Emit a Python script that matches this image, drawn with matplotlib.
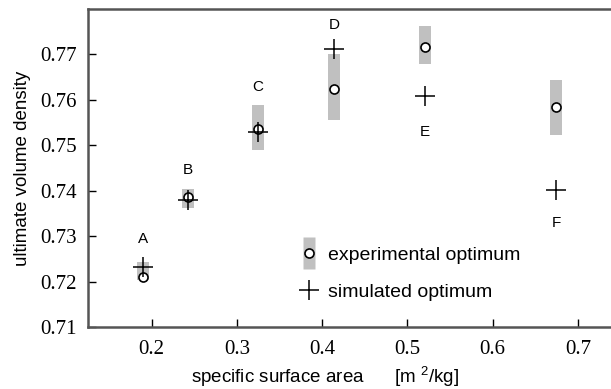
import matplotlib
matplotlib.use("Agg")
import matplotlib.pyplot as plt
from matplotlib.lines import Line2D
from matplotlib.legend_handler import HandlerTuple

# Data
labels = ["A", "B", "C", "D", "E", "F"]
ssa = [0.1895, 0.2429, 0.3246, 0.4141, 0.5204, 0.6746]
exp_opt = [0.7211, 0.7387, 0.7535, 0.7625, 0.7717, 0.7585]
exp_low = [0.7204, 0.7361, 0.7490, 0.7556, 0.7680, 0.7523]
exp_high = [0.7242, 0.7404, 0.7588, 0.7702, 0.7762, 0.7643]
sim_opt = [0.7232, 0.7380, 0.7530, 0.7711, 0.7609, 0.7402]
label_y = [0.7293, 0.7446, 0.7628, 0.7765, 0.7529, 0.7329]
xticks = [0.2, 0.3, 0.4, 0.5, 0.6, 0.7]
yticks = [0.71, 0.72, 0.73, 0.74, 0.75, 0.76, 0.77]

plt.rcParams['mathtext.fontset'] = 'custom'
plt.rcParams['mathtext.rm'] = 'Liberation Sans'
plt.rcParams['mathtext.it'] = 'Liberation Sans'

fig = plt.figure(figsize=(6.11, 3.89), dpi=100)
ax = fig.add_axes([88/611, 1-327/389, (611-88)/611, (327-9)/389])

bar_w = 0.014
for x, lo, hi in zip(ssa, exp_low, exp_high):
    ax.bar(x, hi - lo, bottom=lo, width=bar_w, color='#c0c0c0', zorder=1)
ax.plot(ssa, exp_opt, linestyle='none', marker='o', markersize=6.5,
        markerfacecolor='white', markeredgecolor='black', markeredgewidth=1.2, zorder=3)
ax.plot(ssa, sim_opt, linestyle='none', marker='+', markersize=15,
        markeredgecolor='black', markeredgewidth=1.1, zorder=4)
for x, y, t in zip(ssa, label_y, labels):
    ax.text(x, y, t, ha='center', va='center', fontsize=11, family='Liberation Sans')

ax.set_xlim(0.1253, 0.7387)
ax.set_ylim(0.71, 0.78)
ax.set_xticks(xticks)
ax.set_yticks(yticks)
ax.set_xticklabels([f"{v:.1f}" for v in xticks])
ax.set_yticklabels([f"{v:.2f}" for v in yticks])
for lbl in ax.get_xticklabels() + ax.get_yticklabels():
    lbl.set_fontfamily('Liberation Serif')
    lbl.set_fontsize(15)
ax.tick_params(direction='in', length=6, width=1, color='black', pad=8)
ax.tick_params(axis='x', pad=9)
ax.spines['right'].set_visible(False)
for s in ['top', 'bottom', 'left']:
    ax.spines[s].set_linewidth(1.8)
    ax.spines[s].set_color('#555555')

ax.set_xlabel("specific surface area      [m $^{2}$/kg]", fontsize=13.5,
              family='Liberation Sans')
ax.xaxis.set_label_coords(0.4535, -0.12)
ax.set_ylabel("ultimate volume density", fontsize=13.5, family='Liberation Sans')
ax.yaxis.set_label_coords(-0.109, 0.5)

rect = Line2D([], [], linestyle='none', marker=[(-0.35, -1), (0.35, -1), (0.35, 1), (-0.35, 1)],
              markersize=23, markerfacecolor='#c0c0c0', markeredgecolor='none')
circ = Line2D([], [], linestyle='none', marker='o', markersize=6.5,
              markerfacecolor='white', markeredgecolor='black', markeredgewidth=1.2)
cross = Line2D([], [], linestyle='none', marker='+', markersize=15,
               markeredgecolor='black', markeredgewidth=1.1)
leg = ax.legend([(rect, circ), cross], ["experimental optimum", "simulated optimum"],
                handler_map={tuple: HandlerTuple(ndivide=1)},
                loc='lower left', bbox_to_anchor=(0.37, 0.027), frameon=False,
                prop={'family': 'Liberation Sans', 'size': 14},
                handlelength=1.0, handletextpad=0.5, labelspacing=1.0)

fig.savefig("out.png", dpi=100)
